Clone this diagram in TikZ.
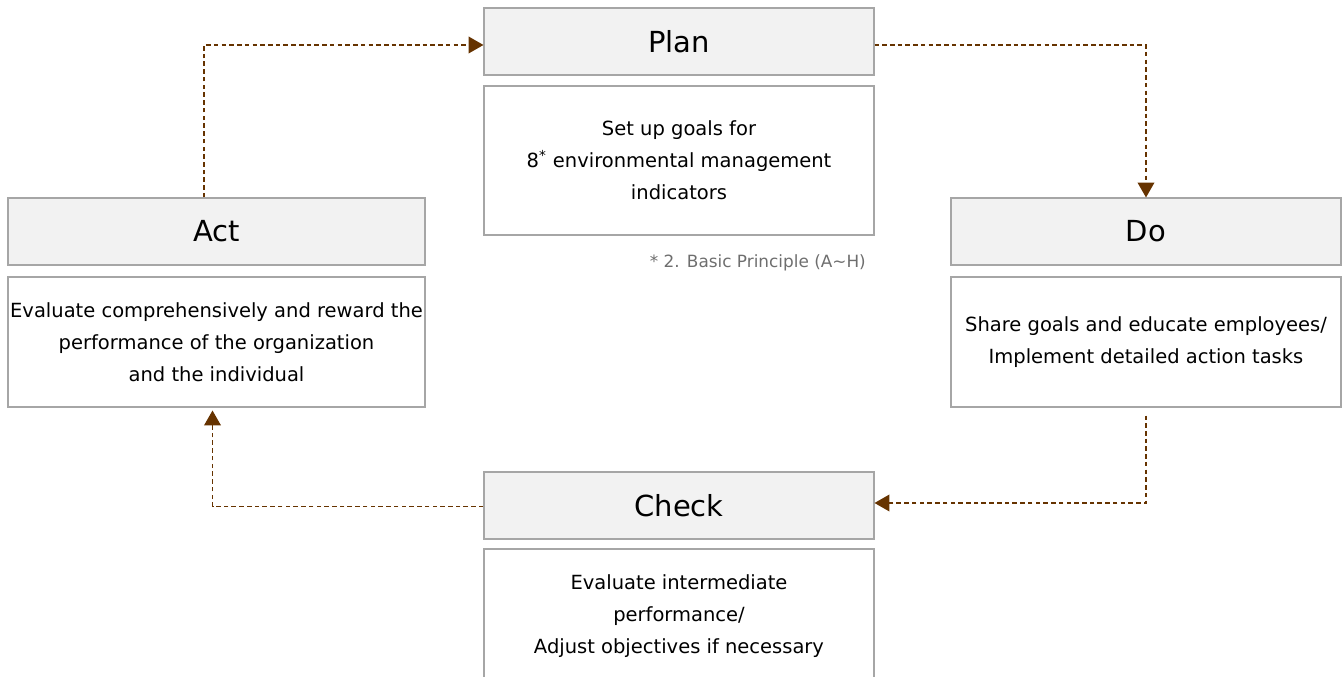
\documentclass[tikz,border=0pt]{standalone}
\usepackage{fontspec}
\setmainfont{DejaVu Sans}
\usetikzlibrary{arrows.meta}
\definecolor{boxline}{HTML}{A6A6A6}
\definecolor{headfill}{HTML}{F2F2F2}
\definecolor{arrowbrown}{HTML}{663300}
\definecolor{notegray}{HTML}{6E6E6E}

\begin{document}
\begin{tikzpicture}[
    head/.style={draw=boxline,fill=headfill,line width=0.6pt,minimum width=7.8cm,minimum height=1.34cm,inner sep=0pt,font=\fontsize{16.5}{20}\selectfont},
    body/.style={draw=boxline,fill=white,line width=0.6pt,minimum width=7.8cm,align=center,inner sep=0pt,font=\fontsize{11.1}{18.2}\selectfont},
    flow/.style={draw=arrowbrown,line width=0.9pt,dash pattern=on 2.6pt off 1.8pt,-{Triangle[length=8.5pt,width=9.5pt,fill=arrowbrown]}}
    ]
        \useasboundingbox (0,0) rectangle (26.86,13.54);
        % plan
        \node[head] (plan) at (13.58,12.71) {Plan};
        \node[body,minimum height=2.98cm] (planbody) at (13.58,10.33) {Set up goals for\\8\textsuperscript{*} environmental management\\indicators};
        \node[anchor=east,text=notegray,font=\fontsize{9.6}{11}\selectfont] (note) at (17.44,8.29) {* 2. Basic Principle (A\textasciitilde H)};
        % do
        \node[head] (do) at (22.92,8.91) {Do};
        \node[body,minimum height=2.6cm] (dobody) at (22.92,6.7) {Share goals and educate employees/\\Implement detailed action tasks};
        % check
        \node[head] (check) at (13.58,3.43) {Check};
        \node[body,minimum height=2.68cm] (checkbody) at (13.58,1.22) {Evaluate intermediate\\performance/\\Adjust objectives if necessary};
        % act
        \node[head,minimum width=8.34cm] (act) at (4.33,8.91) {Act};
        \node[body,minimum width=8.34cm,minimum height=2.6cm] (actbody) at (4.33,6.7) {Evaluate comprehensively and reward the\\performance of the organization\\and the individual};
        % cycle
        \draw[flow] ([xshift=-0.25cm]act.north) |- ([yshift=-0.07cm]plan.west);
        \draw[flow] ([yshift=-0.07cm]plan.east) -| (do.north);
        \draw[flow] ([yshift=-0.16cm]dobody.south) |- ([yshift=0.05cm]check.east);
        \draw[flow] ([yshift=-0.02cm]check.west) -| ([xshift=-0.08cm,yshift=-0.06cm]actbody.south);
\end{tikzpicture}
\end{document}
